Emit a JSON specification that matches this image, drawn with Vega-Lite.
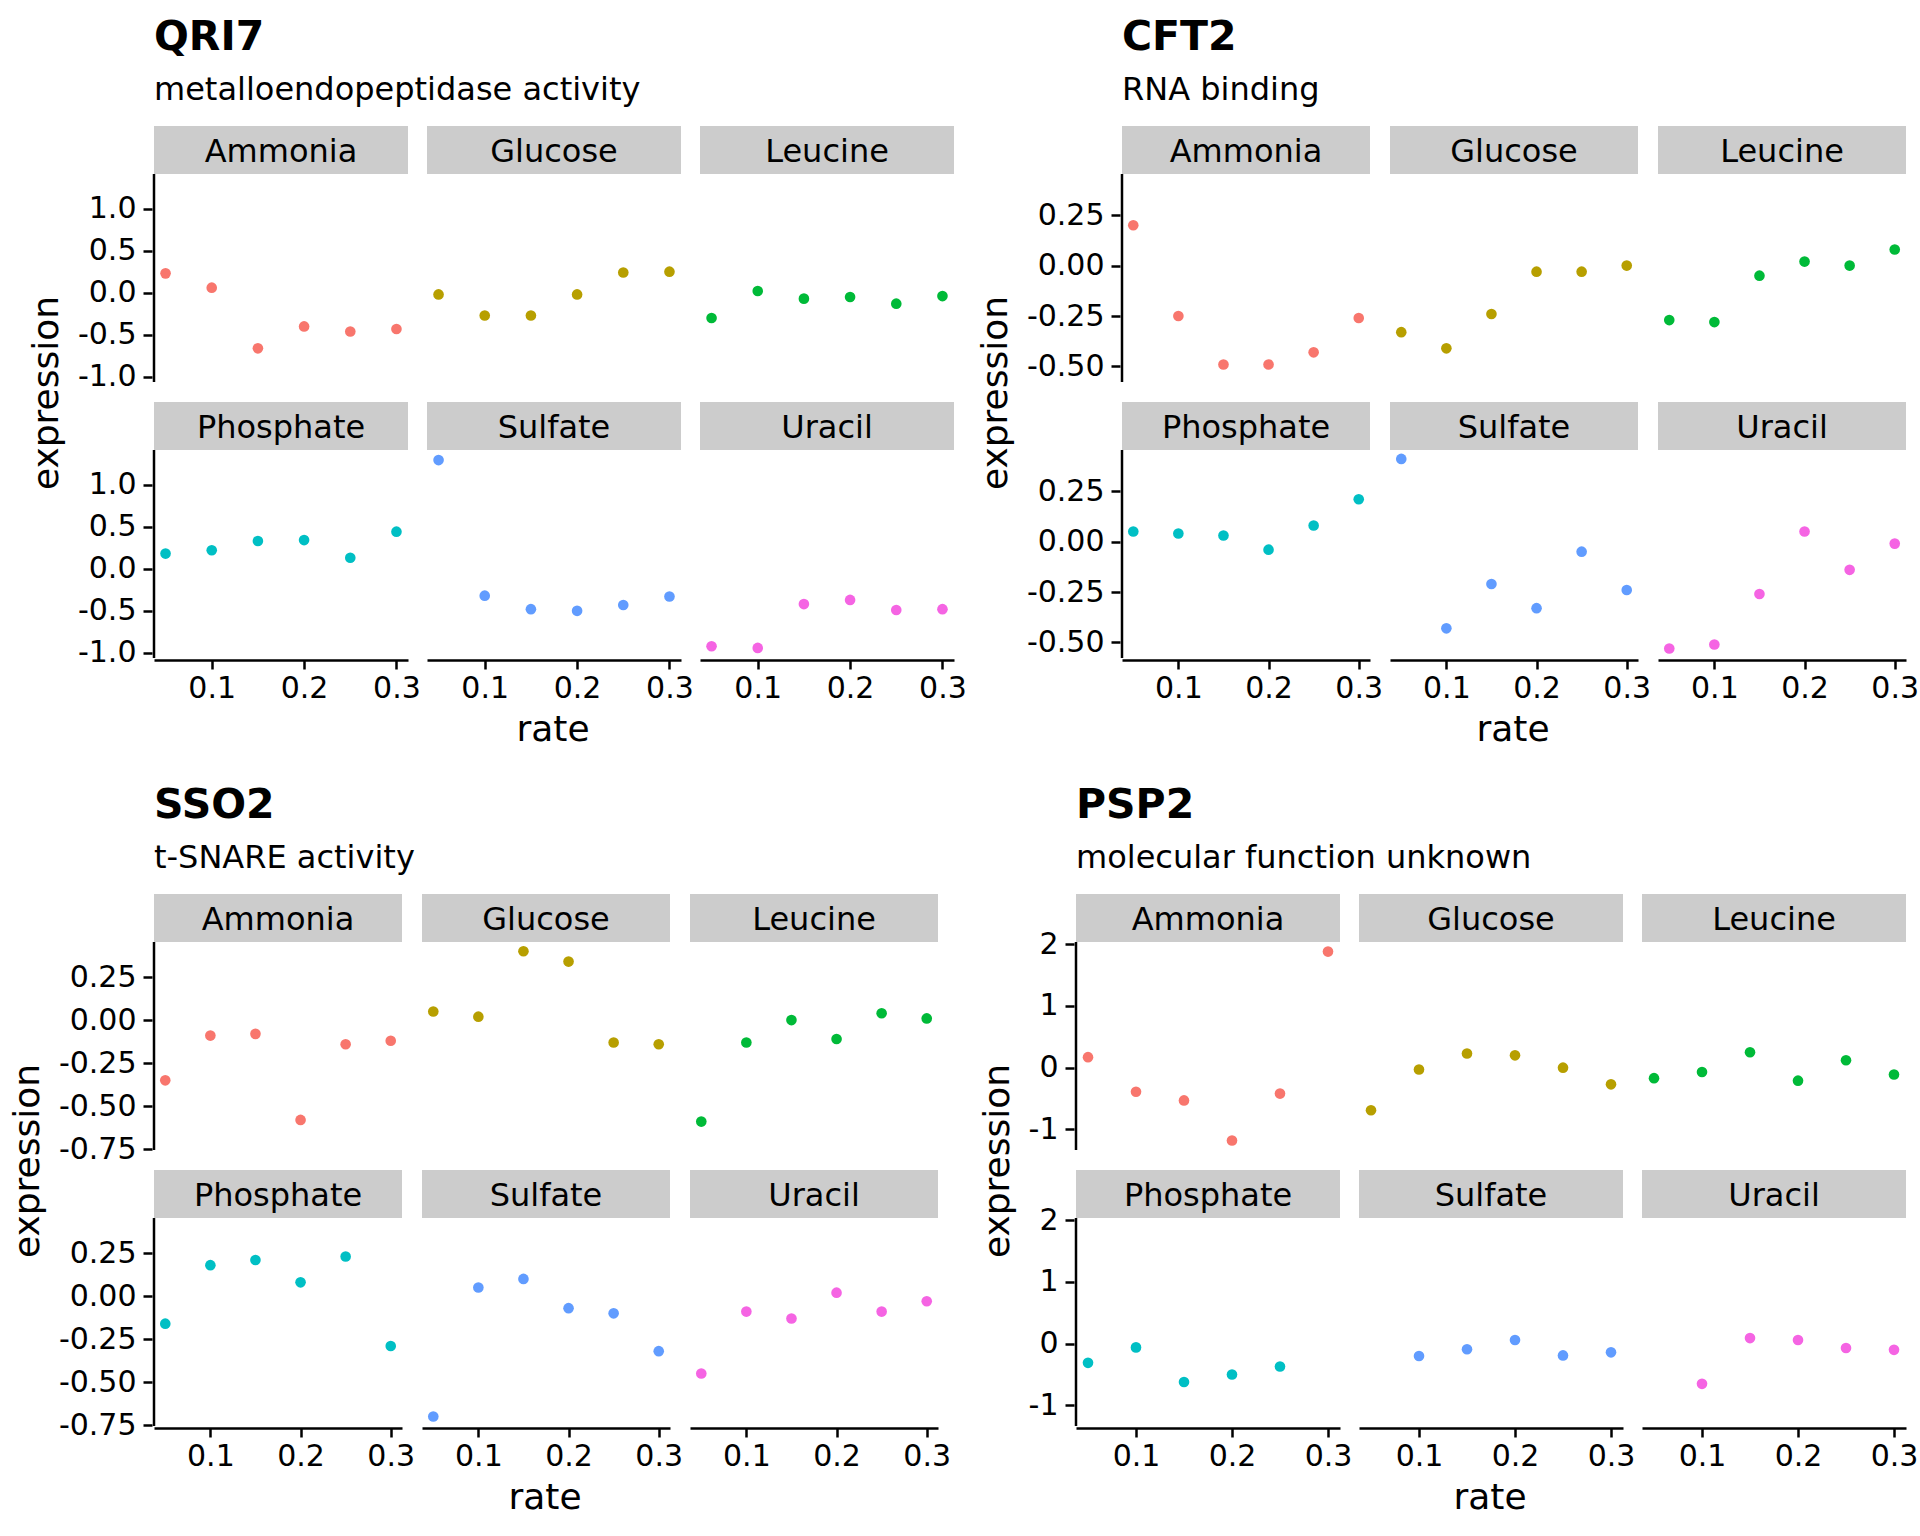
{
  "$schema": "https://vega.github.io/schema/vega-lite/v6.json",
  "background": "white",
  "padding": {"left": 9, "top": 17, "right": 0, "bottom": 0},
  "data": {"values": [
    {"gene":"QRI7","medium":"Ammonia","rate":0.05,"expression":0.23},{"gene":"QRI7","medium":"Ammonia","rate":0.1,"expression":0.06},{"gene":"QRI7","medium":"Ammonia","rate":0.15,"expression":-0.66},{"gene":"QRI7","medium":"Ammonia","rate":0.2,"expression":-0.40},{"gene":"QRI7","medium":"Ammonia","rate":0.25,"expression":-0.46},{"gene":"QRI7","medium":"Ammonia","rate":0.3,"expression":-0.43},
    {"gene":"QRI7","medium":"Glucose","rate":0.05,"expression":-0.02},{"gene":"QRI7","medium":"Glucose","rate":0.1,"expression":-0.27},{"gene":"QRI7","medium":"Glucose","rate":0.15,"expression":-0.27},{"gene":"QRI7","medium":"Glucose","rate":0.2,"expression":-0.02},{"gene":"QRI7","medium":"Glucose","rate":0.25,"expression":0.24},{"gene":"QRI7","medium":"Glucose","rate":0.3,"expression":0.25},
    {"gene":"QRI7","medium":"Leucine","rate":0.05,"expression":-0.30},{"gene":"QRI7","medium":"Leucine","rate":0.1,"expression":0.02},{"gene":"QRI7","medium":"Leucine","rate":0.15,"expression":-0.07},{"gene":"QRI7","medium":"Leucine","rate":0.2,"expression":-0.05},{"gene":"QRI7","medium":"Leucine","rate":0.25,"expression":-0.13},{"gene":"QRI7","medium":"Leucine","rate":0.3,"expression":-0.04},
    {"gene":"QRI7","medium":"Phosphate","rate":0.05,"expression":0.18},{"gene":"QRI7","medium":"Phosphate","rate":0.1,"expression":0.22},{"gene":"QRI7","medium":"Phosphate","rate":0.15,"expression":0.33},{"gene":"QRI7","medium":"Phosphate","rate":0.2,"expression":0.34},{"gene":"QRI7","medium":"Phosphate","rate":0.25,"expression":0.13},{"gene":"QRI7","medium":"Phosphate","rate":0.3,"expression":0.44},
    {"gene":"QRI7","medium":"Sulfate","rate":0.05,"expression":1.29},{"gene":"QRI7","medium":"Sulfate","rate":0.1,"expression":-0.32},{"gene":"QRI7","medium":"Sulfate","rate":0.15,"expression":-0.48},{"gene":"QRI7","medium":"Sulfate","rate":0.2,"expression":-0.50},{"gene":"QRI7","medium":"Sulfate","rate":0.25,"expression":-0.43},{"gene":"QRI7","medium":"Sulfate","rate":0.3,"expression":-0.33},
    {"gene":"QRI7","medium":"Uracil","rate":0.05,"expression":-0.92},{"gene":"QRI7","medium":"Uracil","rate":0.1,"expression":-0.94},{"gene":"QRI7","medium":"Uracil","rate":0.15,"expression":-0.42},{"gene":"QRI7","medium":"Uracil","rate":0.2,"expression":-0.37},{"gene":"QRI7","medium":"Uracil","rate":0.25,"expression":-0.49},{"gene":"QRI7","medium":"Uracil","rate":0.3,"expression":-0.48},
    {"gene":"CFT2","medium":"Ammonia","rate":0.05,"expression":0.20},{"gene":"CFT2","medium":"Ammonia","rate":0.1,"expression":-0.25},{"gene":"CFT2","medium":"Ammonia","rate":0.15,"expression":-0.49},{"gene":"CFT2","medium":"Ammonia","rate":0.2,"expression":-0.49},{"gene":"CFT2","medium":"Ammonia","rate":0.25,"expression":-0.43},{"gene":"CFT2","medium":"Ammonia","rate":0.3,"expression":-0.26},
    {"gene":"CFT2","medium":"Glucose","rate":0.05,"expression":-0.33},{"gene":"CFT2","medium":"Glucose","rate":0.1,"expression":-0.41},{"gene":"CFT2","medium":"Glucose","rate":0.15,"expression":-0.24},{"gene":"CFT2","medium":"Glucose","rate":0.2,"expression":-0.03},{"gene":"CFT2","medium":"Glucose","rate":0.25,"expression":-0.03},{"gene":"CFT2","medium":"Glucose","rate":0.3,"expression":0.00},
    {"gene":"CFT2","medium":"Leucine","rate":0.05,"expression":-0.27},{"gene":"CFT2","medium":"Leucine","rate":0.1,"expression":-0.28},{"gene":"CFT2","medium":"Leucine","rate":0.15,"expression":-0.05},{"gene":"CFT2","medium":"Leucine","rate":0.2,"expression":0.02},{"gene":"CFT2","medium":"Leucine","rate":0.25,"expression":0.00},{"gene":"CFT2","medium":"Leucine","rate":0.3,"expression":0.08},
    {"gene":"CFT2","medium":"Phosphate","rate":0.05,"expression":0.05},{"gene":"CFT2","medium":"Phosphate","rate":0.1,"expression":0.04},{"gene":"CFT2","medium":"Phosphate","rate":0.15,"expression":0.03},{"gene":"CFT2","medium":"Phosphate","rate":0.2,"expression":-0.04},{"gene":"CFT2","medium":"Phosphate","rate":0.25,"expression":0.08},{"gene":"CFT2","medium":"Phosphate","rate":0.3,"expression":0.21},
    {"gene":"CFT2","medium":"Sulfate","rate":0.05,"expression":0.41},{"gene":"CFT2","medium":"Sulfate","rate":0.1,"expression":-0.43},{"gene":"CFT2","medium":"Sulfate","rate":0.15,"expression":-0.21},{"gene":"CFT2","medium":"Sulfate","rate":0.2,"expression":-0.33},{"gene":"CFT2","medium":"Sulfate","rate":0.25,"expression":-0.05},{"gene":"CFT2","medium":"Sulfate","rate":0.3,"expression":-0.24},
    {"gene":"CFT2","medium":"Uracil","rate":0.05,"expression":-0.53},{"gene":"CFT2","medium":"Uracil","rate":0.1,"expression":-0.51},{"gene":"CFT2","medium":"Uracil","rate":0.15,"expression":-0.26},{"gene":"CFT2","medium":"Uracil","rate":0.2,"expression":0.05},{"gene":"CFT2","medium":"Uracil","rate":0.25,"expression":-0.14},{"gene":"CFT2","medium":"Uracil","rate":0.3,"expression":-0.01},
    {"gene":"SSO2","medium":"Ammonia","rate":0.05,"expression":-0.35},{"gene":"SSO2","medium":"Ammonia","rate":0.1,"expression":-0.09},{"gene":"SSO2","medium":"Ammonia","rate":0.15,"expression":-0.08},{"gene":"SSO2","medium":"Ammonia","rate":0.2,"expression":-0.58},{"gene":"SSO2","medium":"Ammonia","rate":0.25,"expression":-0.14},{"gene":"SSO2","medium":"Ammonia","rate":0.3,"expression":-0.12},
    {"gene":"SSO2","medium":"Glucose","rate":0.05,"expression":0.05},{"gene":"SSO2","medium":"Glucose","rate":0.1,"expression":0.02},{"gene":"SSO2","medium":"Glucose","rate":0.15,"expression":0.40},{"gene":"SSO2","medium":"Glucose","rate":0.2,"expression":0.34},{"gene":"SSO2","medium":"Glucose","rate":0.25,"expression":-0.13},{"gene":"SSO2","medium":"Glucose","rate":0.3,"expression":-0.14},
    {"gene":"SSO2","medium":"Leucine","rate":0.05,"expression":-0.59},{"gene":"SSO2","medium":"Leucine","rate":0.1,"expression":-0.13},{"gene":"SSO2","medium":"Leucine","rate":0.15,"expression":0.00},{"gene":"SSO2","medium":"Leucine","rate":0.2,"expression":-0.11},{"gene":"SSO2","medium":"Leucine","rate":0.25,"expression":0.04},{"gene":"SSO2","medium":"Leucine","rate":0.3,"expression":0.01},
    {"gene":"SSO2","medium":"Phosphate","rate":0.05,"expression":-0.16},{"gene":"SSO2","medium":"Phosphate","rate":0.1,"expression":0.18},{"gene":"SSO2","medium":"Phosphate","rate":0.15,"expression":0.21},{"gene":"SSO2","medium":"Phosphate","rate":0.2,"expression":0.08},{"gene":"SSO2","medium":"Phosphate","rate":0.25,"expression":0.23},{"gene":"SSO2","medium":"Phosphate","rate":0.3,"expression":-0.29},
    {"gene":"SSO2","medium":"Sulfate","rate":0.05,"expression":-0.70},{"gene":"SSO2","medium":"Sulfate","rate":0.1,"expression":0.05},{"gene":"SSO2","medium":"Sulfate","rate":0.15,"expression":0.10},{"gene":"SSO2","medium":"Sulfate","rate":0.2,"expression":-0.07},{"gene":"SSO2","medium":"Sulfate","rate":0.25,"expression":-0.10},{"gene":"SSO2","medium":"Sulfate","rate":0.3,"expression":-0.32},
    {"gene":"SSO2","medium":"Uracil","rate":0.05,"expression":-0.45},{"gene":"SSO2","medium":"Uracil","rate":0.1,"expression":-0.09},{"gene":"SSO2","medium":"Uracil","rate":0.15,"expression":-0.13},{"gene":"SSO2","medium":"Uracil","rate":0.2,"expression":0.02},{"gene":"SSO2","medium":"Uracil","rate":0.25,"expression":-0.09},{"gene":"SSO2","medium":"Uracil","rate":0.3,"expression":-0.03},
    {"gene":"PSP2","medium":"Ammonia","rate":0.05,"expression":0.17},{"gene":"PSP2","medium":"Ammonia","rate":0.1,"expression":-0.39},{"gene":"PSP2","medium":"Ammonia","rate":0.15,"expression":-0.53},{"gene":"PSP2","medium":"Ammonia","rate":0.2,"expression":-1.18},{"gene":"PSP2","medium":"Ammonia","rate":0.25,"expression":-0.42},{"gene":"PSP2","medium":"Ammonia","rate":0.3,"expression":1.88},
    {"gene":"PSP2","medium":"Glucose","rate":0.05,"expression":-0.69},{"gene":"PSP2","medium":"Glucose","rate":0.1,"expression":-0.03},{"gene":"PSP2","medium":"Glucose","rate":0.15,"expression":0.23},{"gene":"PSP2","medium":"Glucose","rate":0.2,"expression":0.20},{"gene":"PSP2","medium":"Glucose","rate":0.25,"expression":0.00},{"gene":"PSP2","medium":"Glucose","rate":0.3,"expression":-0.27},
    {"gene":"PSP2","medium":"Leucine","rate":0.05,"expression":-0.17},{"gene":"PSP2","medium":"Leucine","rate":0.1,"expression":-0.07},{"gene":"PSP2","medium":"Leucine","rate":0.15,"expression":0.25},{"gene":"PSP2","medium":"Leucine","rate":0.2,"expression":-0.21},{"gene":"PSP2","medium":"Leucine","rate":0.25,"expression":0.12},{"gene":"PSP2","medium":"Leucine","rate":0.3,"expression":-0.11},
    {"gene":"PSP2","medium":"Phosphate","rate":0.05,"expression":-0.31},{"gene":"PSP2","medium":"Phosphate","rate":0.1,"expression":-0.06},{"gene":"PSP2","medium":"Phosphate","rate":0.15,"expression":-0.62},{"gene":"PSP2","medium":"Phosphate","rate":0.2,"expression":-0.50},{"gene":"PSP2","medium":"Phosphate","rate":0.25,"expression":-0.37},
    {"gene":"PSP2","medium":"Sulfate","rate":0.1,"expression":-0.20},{"gene":"PSP2","medium":"Sulfate","rate":0.15,"expression":-0.09},{"gene":"PSP2","medium":"Sulfate","rate":0.2,"expression":0.06},{"gene":"PSP2","medium":"Sulfate","rate":0.25,"expression":-0.19},{"gene":"PSP2","medium":"Sulfate","rate":0.3,"expression":-0.14},
    {"gene":"PSP2","medium":"Uracil","rate":0.1,"expression":-0.65},{"gene":"PSP2","medium":"Uracil","rate":0.15,"expression":0.09},{"gene":"PSP2","medium":"Uracil","rate":0.2,"expression":0.06},{"gene":"PSP2","medium":"Uracil","rate":0.25,"expression":-0.07},{"gene":"PSP2","medium":"Uracil","rate":0.3,"expression":-0.10}
  ]},
  "spacing": 37,
  "vconcat": [
    {"spacing": 10, "hconcat": [
      {
        "title": {"text": "QRI7", "subtitle": "metalloendopeptidase activity"},
        "transform": [
          {"filter": "datum.gene === 'QRI7'"},
          {"calculate": "floor(indexof(['Ammonia','Glucose','Leucine','Phosphate','Sulfate','Uracil'], datum.medium) / 3)", "as": "wrapRow"},
          {"calculate": "indexof(['Ammonia','Glucose','Leucine','Phosphate','Sulfate','Uracil'], datum.medium) % 3", "as": "wrapCol"}
        ],
        "facet": {
          "row": {"field": "wrapRow", "type": "ordinal", "header": {"labels": false, "title": "expression", "titlePadding": 1}},
          "column": {"field": "wrapCol", "type": "ordinal", "header": {"labels": false, "title": "rate", "titleOrient": "bottom", "titlePadding": 0}}
        },
        "spacing": {"row": 18, "column": 19},
        "spec": {
          "width": 254, "height": 256,
          "layer": [
            {"transform": [{"aggregate": [{"op": "count", "as": "n"}], "groupby": ["medium"]}],
             "mark": {"type": "rect", "color": "#CCCCCC"},
             "encoding": {"x": {"datum": 0.0375, "type": "quantitative", "scale": {"domain": [0.0375, 0.3125], "nice": false, "zero": false}, "axis": {"title": null, "values": [0.1, 0.2, 0.3], "format": ".1f"}}, "x2": {"datum": 0.3125},
                          "y": {"datum": 1.41, "type": "quantitative", "scale": {"domain": [-1.06, 1.98], "nice": false, "zero": false}, "axis": {"title": null, "domain": false, "values": [-1, -0.5, 0, 0.5, 1], "format": ".1f", "labelExpr": "replace(datum.label, '−', '-')"}}, "y2": {"datum": 1.98}}},
            {"transform": [{"aggregate": [{"op": "count", "as": "n"}], "groupby": ["medium"]}],
             "mark": {"type": "text", "fontSize": 32, "color": "black", "baseline": "middle", "align": "center", "dy": 2},
             "encoding": {"x": {"datum": 0.175, "type": "quantitative", "scale": {"domain": [0.0375, 0.3125], "nice": false, "zero": false}, "axis": {"title": null, "values": [0.1, 0.2, 0.3], "format": ".1f"}},
                          "y": {"datum": 1.695, "type": "quantitative", "scale": {"domain": [-1.06, 1.98], "nice": false, "zero": false}, "axis": {"title": null, "domain": false, "values": [-1, -0.5, 0, 0.5, 1], "format": ".1f", "labelExpr": "replace(datum.label, '−', '-')"}}, "text": {"field": "medium"}}},
            {"transform": [{"filter": "datum.wrapCol == 0"}, {"aggregate": [{"op": "count", "as": "n"}], "groupby": ["medium"]}],
             "mark": {"type": "rule", "color": "black", "strokeWidth": 2.5},
             "encoding": {"x": {"datum": 0.0375, "type": "quantitative", "scale": {"domain": [0.0375, 0.3125], "nice": false, "zero": false}, "axis": {"title": null, "values": [0.1, 0.2, 0.3], "format": ".1f"}},
                          "y": {"datum": -1.06, "type": "quantitative", "scale": {"domain": [-1.06, 1.98], "nice": false, "zero": false}, "axis": {"title": null, "domain": false, "values": [-1, -0.5, 0, 0.5, 1], "format": ".1f", "labelExpr": "replace(datum.label, '−', '-')"}}, "y2": {"datum": 1.41}}},
            {"mark": {"type": "circle", "size": 113, "opacity": 1},
             "encoding": {
               "x": {"field": "rate", "type": "quantitative", "scale": {"domain": [0.0375, 0.3125], "nice": false, "zero": false}, "axis": {"title": null, "values": [0.1, 0.2, 0.3], "format": ".1f"}},
               "y": {"field": "expression", "type": "quantitative", "scale": {"domain": [-1.06, 1.98], "nice": false, "zero": false}, "axis": {"title": null, "domain": false, "values": [-1, -0.5, 0, 0.5, 1], "format": ".1f", "labelExpr": "replace(datum.label, '−', '-')"}},
               "color": {"field": "medium", "type": "nominal", "legend": null, "scale": {"domain": ["Ammonia","Glucose","Leucine","Phosphate","Sulfate","Uracil"], "range": ["#F8766D","#B79F00","#00BA38","#00BFC4","#619CFF","#F564E3"]}}
             }}
          ]
        }
      },
      {
        "title": {"text": "CFT2", "subtitle": "RNA binding"},
        "transform": [
          {"filter": "datum.gene === 'CFT2'"},
          {"calculate": "floor(indexof(['Ammonia','Glucose','Leucine','Phosphate','Sulfate','Uracil'], datum.medium) / 3)", "as": "wrapRow"},
          {"calculate": "indexof(['Ammonia','Glucose','Leucine','Phosphate','Sulfate','Uracil'], datum.medium) % 3", "as": "wrapCol"}
        ],
        "facet": {
          "row": {"field": "wrapRow", "type": "ordinal", "header": {"labels": false, "title": "expression", "titlePadding": 1}},
          "column": {"field": "wrapCol", "type": "ordinal", "header": {"labels": false, "title": "rate", "titleOrient": "bottom", "titlePadding": 0}}
        },
        "spacing": {"row": 18, "column": 20},
        "spec": {
          "width": 248, "height": 256,
          "layer": [
            {"transform": [{"aggregate": [{"op": "count", "as": "n"}], "groupby": ["medium"]}],
             "mark": {"type": "rect", "color": "#CCCCCC"},
             "encoding": {"x": {"datum": 0.0375, "type": "quantitative", "scale": {"domain": [0.0375, 0.3125], "nice": false, "zero": false}, "axis": {"title": null, "values": [0.1, 0.2, 0.3], "format": ".1f"}}, "x2": {"datum": 0.3125},
                          "y": {"datum": 0.454, "type": "quantitative", "scale": {"domain": [-0.577, 0.692], "nice": false, "zero": false}, "axis": {"title": null, "domain": false, "values": [-0.5, -0.25, 0, 0.25], "format": ".2f", "labelExpr": "replace(datum.label, '−', '-')"}}, "y2": {"datum": 0.692}}},
            {"transform": [{"aggregate": [{"op": "count", "as": "n"}], "groupby": ["medium"]}],
             "mark": {"type": "text", "fontSize": 32, "color": "black", "baseline": "middle", "align": "center", "dy": 2},
             "encoding": {"x": {"datum": 0.175, "type": "quantitative", "scale": {"domain": [0.0375, 0.3125], "nice": false, "zero": false}, "axis": {"title": null, "values": [0.1, 0.2, 0.3], "format": ".1f"}},
                          "y": {"datum": 0.573, "type": "quantitative", "scale": {"domain": [-0.577, 0.692], "nice": false, "zero": false}, "axis": {"title": null, "domain": false, "values": [-0.5, -0.25, 0, 0.25], "format": ".2f", "labelExpr": "replace(datum.label, '−', '-')"}}, "text": {"field": "medium"}}},
            {"transform": [{"filter": "datum.wrapCol == 0"}, {"aggregate": [{"op": "count", "as": "n"}], "groupby": ["medium"]}],
             "mark": {"type": "rule", "color": "black", "strokeWidth": 2.5},
             "encoding": {"x": {"datum": 0.0375, "type": "quantitative", "scale": {"domain": [0.0375, 0.3125], "nice": false, "zero": false}, "axis": {"title": null, "values": [0.1, 0.2, 0.3], "format": ".1f"}},
                          "y": {"datum": -0.577, "type": "quantitative", "scale": {"domain": [-0.577, 0.692], "nice": false, "zero": false}, "axis": {"title": null, "domain": false, "values": [-0.5, -0.25, 0, 0.25], "format": ".2f", "labelExpr": "replace(datum.label, '−', '-')"}}, "y2": {"datum": 0.454}}},
            {"mark": {"type": "circle", "size": 113, "opacity": 1},
             "encoding": {
               "x": {"field": "rate", "type": "quantitative", "scale": {"domain": [0.0375, 0.3125], "nice": false, "zero": false}, "axis": {"title": null, "values": [0.1, 0.2, 0.3], "format": ".1f"}},
               "y": {"field": "expression", "type": "quantitative", "scale": {"domain": [-0.577, 0.692], "nice": false, "zero": false}, "axis": {"title": null, "domain": false, "values": [-0.5, -0.25, 0, 0.25], "format": ".2f", "labelExpr": "replace(datum.label, '−', '-')"}},
               "color": {"field": "medium", "type": "nominal", "legend": null, "scale": {"domain": ["Ammonia","Glucose","Leucine","Phosphate","Sulfate","Uracil"], "range": ["#F8766D","#B79F00","#00BA38","#00BFC4","#619CFF","#F564E3"]}}
             }}
          ]
        }
      }
    ]},
    {"spacing": 28, "hconcat": [
      {
        "title": {"text": "SSO2", "subtitle": "t-SNARE activity"},
        "transform": [
          {"filter": "datum.gene === 'SSO2'"},
          {"calculate": "floor(indexof(['Ammonia','Glucose','Leucine','Phosphate','Sulfate','Uracil'], datum.medium) / 3)", "as": "wrapRow"},
          {"calculate": "indexof(['Ammonia','Glucose','Leucine','Phosphate','Sulfate','Uracil'], datum.medium) % 3", "as": "wrapCol"}
        ],
        "facet": {
          "row": {"field": "wrapRow", "type": "ordinal", "header": {"labels": false, "title": "expression", "titlePadding": 1}},
          "column": {"field": "wrapCol", "type": "ordinal", "header": {"labels": false, "title": "rate", "titleOrient": "bottom", "titlePadding": 0}}
        },
        "spacing": {"row": 18, "column": 20},
        "spec": {
          "width": 248, "height": 256,
          "layer": [
            {"transform": [{"aggregate": [{"op": "count", "as": "n"}], "groupby": ["medium"]}],
             "mark": {"type": "rect", "color": "#CCCCCC"},
             "encoding": {"x": {"datum": 0.0375, "type": "quantitative", "scale": {"domain": [0.0375, 0.3125], "nice": false, "zero": false}, "axis": {"title": null, "values": [0.1, 0.2, 0.3], "format": ".1f"}}, "x2": {"datum": 0.3125},
                          "y": {"datum": 0.454, "type": "quantitative", "scale": {"domain": [-0.755, 0.733], "nice": false, "zero": false}, "axis": {"title": null, "domain": false, "values": [-0.75, -0.5, -0.25, 0, 0.25], "format": ".2f", "labelExpr": "replace(datum.label, '−', '-')"}}, "y2": {"datum": 0.733}}},
            {"transform": [{"aggregate": [{"op": "count", "as": "n"}], "groupby": ["medium"]}],
             "mark": {"type": "text", "fontSize": 32, "color": "black", "baseline": "middle", "align": "center", "dy": 2},
             "encoding": {"x": {"datum": 0.175, "type": "quantitative", "scale": {"domain": [0.0375, 0.3125], "nice": false, "zero": false}, "axis": {"title": null, "values": [0.1, 0.2, 0.3], "format": ".1f"}},
                          "y": {"datum": 0.594, "type": "quantitative", "scale": {"domain": [-0.755, 0.733], "nice": false, "zero": false}, "axis": {"title": null, "domain": false, "values": [-0.75, -0.5, -0.25, 0, 0.25], "format": ".2f", "labelExpr": "replace(datum.label, '−', '-')"}}, "text": {"field": "medium"}}},
            {"transform": [{"filter": "datum.wrapCol == 0"}, {"aggregate": [{"op": "count", "as": "n"}], "groupby": ["medium"]}],
             "mark": {"type": "rule", "color": "black", "strokeWidth": 2.5},
             "encoding": {"x": {"datum": 0.0375, "type": "quantitative", "scale": {"domain": [0.0375, 0.3125], "nice": false, "zero": false}, "axis": {"title": null, "values": [0.1, 0.2, 0.3], "format": ".1f"}},
                          "y": {"datum": -0.755, "type": "quantitative", "scale": {"domain": [-0.755, 0.733], "nice": false, "zero": false}, "axis": {"title": null, "domain": false, "values": [-0.75, -0.5, -0.25, 0, 0.25], "format": ".2f", "labelExpr": "replace(datum.label, '−', '-')"}}, "y2": {"datum": 0.454}}},
            {"mark": {"type": "circle", "size": 113, "opacity": 1},
             "encoding": {
               "x": {"field": "rate", "type": "quantitative", "scale": {"domain": [0.0375, 0.3125], "nice": false, "zero": false}, "axis": {"title": null, "values": [0.1, 0.2, 0.3], "format": ".1f"}},
               "y": {"field": "expression", "type": "quantitative", "scale": {"domain": [-0.755, 0.733], "nice": false, "zero": false}, "axis": {"title": null, "domain": false, "values": [-0.75, -0.5, -0.25, 0, 0.25], "format": ".2f", "labelExpr": "replace(datum.label, '−', '-')"}},
               "color": {"field": "medium", "type": "nominal", "legend": null, "scale": {"domain": ["Ammonia","Glucose","Leucine","Phosphate","Sulfate","Uracil"], "range": ["#F8766D","#B79F00","#00BA38","#00BFC4","#619CFF","#F564E3"]}}
             }}
          ]
        }
      },
      {
        "title": {"text": "PSP2", "subtitle": "molecular function unknown"},
        "transform": [
          {"filter": "datum.gene === 'PSP2'"},
          {"calculate": "floor(indexof(['Ammonia','Glucose','Leucine','Phosphate','Sulfate','Uracil'], datum.medium) / 3)", "as": "wrapRow"},
          {"calculate": "indexof(['Ammonia','Glucose','Leucine','Phosphate','Sulfate','Uracil'], datum.medium) % 3", "as": "wrapCol"}
        ],
        "facet": {
          "row": {"field": "wrapRow", "type": "ordinal", "header": {"labels": false, "title": "expression", "titlePadding": 1}},
          "column": {"field": "wrapCol", "type": "ordinal", "header": {"labels": false, "title": "rate", "titleOrient": "bottom", "titlePadding": 0}}
        },
        "spacing": {"row": 18, "column": 19},
        "spec": {
          "width": 264, "height": 256,
          "layer": [
            {"transform": [{"aggregate": [{"op": "count", "as": "n"}], "groupby": ["medium"]}],
             "mark": {"type": "rect", "color": "#CCCCCC"},
             "encoding": {"x": {"datum": 0.0375, "type": "quantitative", "scale": {"domain": [0.0375, 0.3125], "nice": false, "zero": false}, "axis": {"title": null, "values": [0.1, 0.2, 0.3], "format": ".1f"}}, "x2": {"datum": 0.3125},
                          "y": {"datum": 2.035, "type": "quantitative", "scale": {"domain": [-1.333, 2.812], "nice": false, "zero": false}, "axis": {"title": null, "domain": false, "values": [-1, 0, 1, 2], "format": "d", "labelExpr": "replace(datum.label, '−', '-')"}}, "y2": {"datum": 2.812}}},
            {"transform": [{"aggregate": [{"op": "count", "as": "n"}], "groupby": ["medium"]}],
             "mark": {"type": "text", "fontSize": 32, "color": "black", "baseline": "middle", "align": "center", "dy": 2},
             "encoding": {"x": {"datum": 0.175, "type": "quantitative", "scale": {"domain": [0.0375, 0.3125], "nice": false, "zero": false}, "axis": {"title": null, "values": [0.1, 0.2, 0.3], "format": ".1f"}},
                          "y": {"datum": 2.42, "type": "quantitative", "scale": {"domain": [-1.333, 2.812], "nice": false, "zero": false}, "axis": {"title": null, "domain": false, "values": [-1, 0, 1, 2], "format": "d", "labelExpr": "replace(datum.label, '−', '-')"}}, "text": {"field": "medium"}}},
            {"transform": [{"filter": "datum.wrapCol == 0"}, {"aggregate": [{"op": "count", "as": "n"}], "groupby": ["medium"]}],
             "mark": {"type": "rule", "color": "black", "strokeWidth": 2.5},
             "encoding": {"x": {"datum": 0.0375, "type": "quantitative", "scale": {"domain": [0.0375, 0.3125], "nice": false, "zero": false}, "axis": {"title": null, "values": [0.1, 0.2, 0.3], "format": ".1f"}},
                          "y": {"datum": -1.333, "type": "quantitative", "scale": {"domain": [-1.333, 2.812], "nice": false, "zero": false}, "axis": {"title": null, "domain": false, "values": [-1, 0, 1, 2], "format": "d", "labelExpr": "replace(datum.label, '−', '-')"}}, "y2": {"datum": 2.035}}},
            {"mark": {"type": "circle", "size": 113, "opacity": 1},
             "encoding": {
               "x": {"field": "rate", "type": "quantitative", "scale": {"domain": [0.0375, 0.3125], "nice": false, "zero": false}, "axis": {"title": null, "values": [0.1, 0.2, 0.3], "format": ".1f"}},
               "y": {"field": "expression", "type": "quantitative", "scale": {"domain": [-1.333, 2.812], "nice": false, "zero": false}, "axis": {"title": null, "domain": false, "values": [-1, 0, 1, 2], "format": "d", "labelExpr": "replace(datum.label, '−', '-')"}},
               "color": {"field": "medium", "type": "nominal", "legend": null, "scale": {"domain": ["Ammonia","Glucose","Leucine","Phosphate","Sulfate","Uracil"], "range": ["#F8766D","#B79F00","#00BA38","#00BFC4","#619CFF","#F564E3"]}}
             }}
          ]
        }
      }
    ]}
  ],
  "config": {
    "font": "DejaVu Sans",
    "view": {"stroke": null},
    "axis": {"grid": false, "domainColor": "black", "domainWidth": 2.5, "tickColor": "black", "tickWidth": 2.5, "tickSize": 9, "labelColor": "black", "labelFontSize": 30, "labelFont": "DejaVu Sans"},
    "axisX": {"labelPadding": 4},
    "axisY": {"labelPadding": 7},
    "header": {"titleFontSize": 36, "titleColor": "black", "titleFont": "DejaVu Sans", "titleFontWeight": "normal"},
    "title": {"anchor": "start", "frame": "group", "font": "DejaVu Sans", "fontSize": 41, "fontWeight": "bold", "color": "black", "subtitleFont": "DejaVu Sans", "subtitleFontSize": 32, "subtitleColor": "black", "subtitlePadding": 16, "offset": 19}
  }
}
